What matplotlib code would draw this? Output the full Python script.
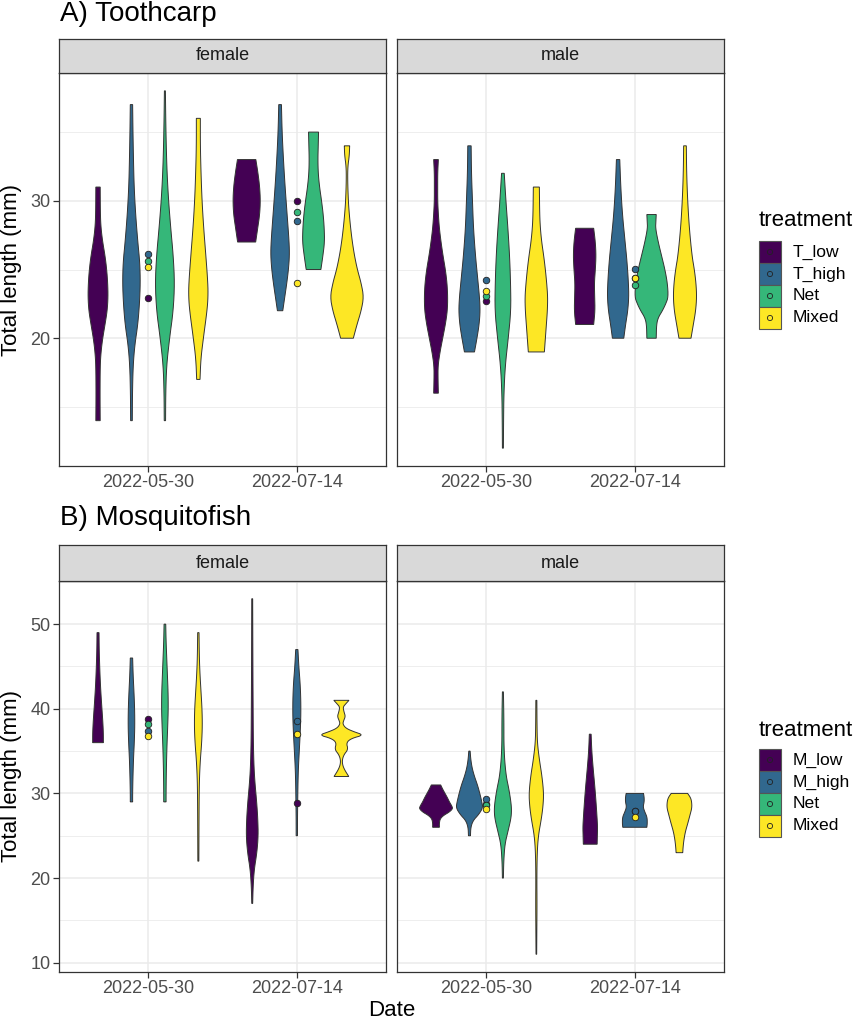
import numpy as np
import matplotlib
matplotlib.use("Agg")
import matplotlib.pyplot as plt
from matplotlib.patches import Rectangle

plt.rcParams["font.family"] = ["Liberation Sans", "DejaVu Sans"]

W, H = 858, 1024
dates = ["2022-05-30", "2022-07-14"]
tc_treatments = ["T_low", "T_high", "Net", "Mixed"]
mf_treatments = ["M_low", "M_high", "Net", "Mixed"]
colors = ["#440154", "#31688E", "#35B779", "#FDE725"]

# violin outlines, top to bottom: (total length mm, relative half width)
tc_female_0530 = {
    "T_low": [(31, .13), (29, .14), (28, .18), (27, .28), (26, .42), (25, .52), (24, .58), (23, .6),
              (22, .55), (21, .42), (20, .28), (19, .18), (18, .13), (16, .12), (14, .13)],
    "T_high": [(37, .07), (35, .09), (33, .12), (31, .16), (29, .25), (27, .38), (25.5, .5), (24, .53),
               (22.5, .48), (21, .38), (19.5, .2), (18, .1), (16, .06), (14, .05)],
    "Net": [(38, .03), (36, .05), (34, .08), (32, .13), (30, .22), (28, .35), (26, .5), (24, .58),
            (22, .5), (20, .28), (18, .1), (16, .05), (14, .04)],
    "Mixed": [(36, .12), (34, .12), (32, .16), (30, .22), (28, .32), (26, .45), (24, .57), (23, .58),
              (22, .52), (20, .3), (18.5, .15), (17, .1)],
}
tc_female_0714 = {
    "T_low": [(33, .55), (32, .68), (31, .78), (30, .82), (29, .78), (28, .66), (27, .54)],
    "T_high": [(37, .08), (35, .12), (33, .2), (31, .3), (29, .42), (27, .54), (26, .56), (25, .5),
               (24, .4), (23, .28), (22, .16)],
    "Net": [(35, .3), (34, .28), (33, .26), (32, .28), (31, .36), (30, .48), (29, .58), (28, .64),
            (27, .66), (26, .56), (25, .44)],
    "Mixed": [(34, .16), (33.3, .14), (32.5, .05), (31.5, .04), (30, .08), (29, .14), (28, .22),
              (27, .32), (26, .45), (25, .62), (24, .85), (23, 1.0), (22, .85), (21, .6), (20, .38)],
}
tc_male_0530 = {
    "T_low": [(33, .14), (32, .1), (31, .1), (30, .1), (29, .14), (28, .2), (27, .3), (26, .42),
              (25, .56), (24, .66), (23, .7), (22, .68), (21, .56), (20, .4), (19, .24), (18, .12),
              (17, .12), (16, .14)],
    "T_high": [(34, .1), (32, .12), (30, .18), (28, .24), (26, .36), (24.5, .48), (23, .6), (22, .64),
               (21, .58), (20, .45), (19, .3)],
    "Net": [(32, .08), (30, .18), (28, .3), (26, .4), (24, .46), (22, .48), (20, .32), (18, .14),
            (16, .06), (14, .04), (12, .03)],
    "Mixed": [(31, .18), (29, .2), (28, .24), (27, .32), (26, .44), (25, .54), (24, .62), (23, .68),
              (22, .66), (21, .6), (20, .54), (19, .48)],
}
tc_male_0714 = {
    "T_low": [(28, .54), (27, .64), (26, .68), (25, .64), (24, .58), (23, .6), (22, .62), (21, .54)],
    "T_high": [(33, .1), (31, .16), (29, .26), (27, .42), (25.5, .54), (24, .62), (23, .64), (22, .58),
               (21, .45), (20, .34)],
    "Net": [(29, .28), (28.5, .26), (28, .24), (27, .4), (26, .6), (25, .8), (24, .95), (23, 1.0),
            (22.5, .85), (22, .65), (21.5, .4), (21, .3), (20, .28)],
    "Mixed": [(34, .08), (32, .1), (30, .16), (28, .26), (26, .42), (25, .56), (24, .66), (23, .7),
              (22, .64), (21, .5), (20, .36)],
}
mf_female_0530 = {
    "M_low": [(49, .06), (47, .07), (45, .1), (43, .14), (41, .2), (39, .27), (38, .3), (37, .32), (36, .32)],
    "M_high": [(46, .07), (44, .1), (42, .15), (40, .19), (38, .2), (36, .17), (34, .12), (32, .09),
               (30, .07), (29, .07)],
    "Net": [(50, .05), (48, .07), (46, .11), (44, .15), (42, .19), (40, .2), (38, .17), (36, .13),
            (34, .1), (32, .08), (30, .07), (29, .07)],
    "Mixed": [(49, .04), (46, .06), (44, .1), (42, .16), (40, .22), (38, .24), (36, .2), (34, .12),
              (32, .07), (30, .05), (27, .04), (22, .03)],
}
mf_female_0714 = {
    "M_low": [(53, .02), (45, .03), (40, .04), (36, .05), (33, .08), (31, .13), (29, .2), (27, .25),
              (25, .27), (23, .21), (21, .09), (19, .04), (17, .02)],
    "M_high": [(47, .05), (45, .09), (43, .15), (41, .18), (39, .18), (37, .15), (35, .11), (33, .07),
               (31, .05), (29, .04), (27, .03), (25, .03)],
    "Mixed": [(41.0, .34), (40.6, .2), (40.2, .07), (39.6, .12), (39.1, .18), (38.6, .1), (38.2, .06),
              (37.7, .2), (37.3, .55), (36.9, 1.0), (36.5, .45), (36.0, .22), (35.2, .3), (34.6, .12),
              (34.0, .04), (33.4, .05), (32.8, .14), (32.0, .33)],
}
mf_male_0530 = {
    "M_low": [(31, .28), (30.5, .4), (30, .54), (29.5, .68), (29, .8), (28.5, .95), (28.2, 1.0),
              (27.8, .8), (27.4, .45), (27, .25), (26.5, .2), (26, .2)],
    "M_high": [(35, .04), (34, .08), (33, .16), (32, .3), (31, .48), (30, .62), (29, .74), (28.3, .8),
               (27.5, .55), (26.8, .22), (26, .08), (25, .06)],
    "Net": [(42, .03), (40, .05), (38, .06), (36, .06), (34, .1), (32, .2), (30.5, .36), (29, .48),
            (28, .52), (27, .48), (25.5, .3), (24, .12), (22, .05), (20, .03)],
    "Mixed": [(41, .03), (38, .04), (36, .06), (34, .18), (32, .34), (30, .44), (28.5, .4), (27, .3),
              (25, .12), (23, .05), (20, .03), (17, .04), (14, .03), (11, .02)],
}
mf_male_0714 = {
    "M_low": [(37, .04), (35, .07), (33, .13), (31, .2), (29, .26), (27, .31), (26, .33), (25, .32), (24, .31)],
    "M_high": [(30, .39), (29.5, .42), (29, .42), (28.4, .37), (27.8, .45), (27.2, .55), (26.5, .56), (26, .54)],
    "Mixed": [(30, .37), (29.5, .5), (29, .55), (28.3, .56), (27.5, .48), (26.5, .38), (25.5, .27),
              (24.5, .2), (23.5, .16), (23, .15)],
}

# group means (same order as treatments)
tc_female_means = {"2022-05-30": [22.9, 26.1, 25.6, 25.2], "2022-07-14": [30.0, 28.5, 29.2, 24.0]}
tc_male_means = {"2022-05-30": [22.7, 24.25, 23.1, 23.4], "2022-07-14": [24.4, 25.05, 23.9, 24.4]}
mf_female_means = {"2022-05-30": [38.8, 37.4, 38.2, 36.75], "2022-07-14": [28.9, 38.5, None, 37.0]}
mf_male_means = {"2022-05-30": [28.8, 29.3, 28.6, 28.2], "2022-07-14": [27.9, 27.9, None, 27.25]}


def chaikin(y, w, n=2):
    for _ in range(n):
        ny, nw = [y[0]], [w[0]]
        for i in range(len(y) - 1):
            ny += [0.75 * y[i] + 0.25 * y[i + 1], 0.25 * y[i] + 0.75 * y[i + 1]]
            nw += [0.75 * w[i] + 0.25 * w[i + 1], 0.25 * w[i] + 0.75 * w[i + 1]]
        ny.append(y[-1])
        nw.append(w[-1])
        y, w = np.array(ny), np.array(nw)
    return y, w


def add_px_axes(fig, x0, y0, x1, y1):
    return fig.add_axes([x0 / W, 1 - y1 / H, (x1 - x0) / W, (y1 - y0) / H])


def draw_panel(ax, profiles, means, treatments, ylim, major, minor):
    ax.set_xlim(0.4, 2.6)
    ax.set_ylim(*ylim)
    for m in minor:
        ax.axhline(m, color="#EBEBEB", lw=0.6, zorder=0)
    for m in major:
        ax.axhline(m, color="#EBEBEB", lw=1.1, zorder=0)
    for xpos in (1, 2):
        ax.axvline(xpos, color="#EBEBEB", lw=1.1, zorder=0)

    for d, (date, prof) in enumerate(zip(dates, profiles)):
        pos = d + 1
        present = [t for t in treatments if t in prof]
        n = len(present)
        slot = 0.9 / n
        for i, t in enumerate(present):
            c = pos + (i - (n - 1) / 2) * slot
            y = np.array([p[0] for p in prof[t]], dtype=float)
            w = np.array([p[1] for p in prof[t]], dtype=float)
            y, w = chaikin(y, w)
            half = w * slot / 2
            xs = np.concatenate([c + half, (c - half)[::-1]])
            ys = np.concatenate([y, y[::-1]])
            ax.fill(xs, ys, facecolor=colors[treatments.index(t)], edgecolor="#333333",
                    lw=0.7, zorder=2)
        for k, val in enumerate(means[date]):
            if val is None:
                continue
            ax.scatter([pos], [val], s=22, color=colors[k], edgecolor="#222222",
                       linewidth=0.6, zorder=3)

    ax.set_xticks([1, 2])
    ax.set_xticklabels(dates)
    ax.set_yticks(major)
    for sp in ax.spines.values():
        sp.set_color("#333333")
        sp.set_linewidth(0.9)
    ax.tick_params(colors="#333333", labelcolor="#4D4D4D", labelsize=13, length=4, width=0.9, pad=2)


def draw_strip(fig, x0, y0, x1, y1, label):
    s = add_px_axes(fig, x0, y0, x1, y1)
    s.set_facecolor("#D9D9D9")
    s.set_xticks([])
    s.set_yticks([])
    for sp in s.spines.values():
        sp.set_color("#333333")
        sp.set_linewidth(0.9)
    s.text(0.5, 0.5, label, ha="center", va="center", fontsize=13, color="#1A1A1A",
           transform=s.transAxes)


def draw_legend(fig, x0, ytitle, ykey, treatments):
    fig.text(x0 / W, 1 - ytitle / H, "treatment", fontsize=16, va="center", ha="left")
    lg = add_px_axes(fig, 740, ykey - 5, 858, ykey + 95)
    lg.set_xlim(740, 858)
    lg.set_ylim(ykey + 95, ykey - 5)
    lg.axis("off")
    for i, t in enumerate(treatments):
        top = ykey + i * 22
        lg.add_patch(Rectangle((759, top), 22, 22, facecolor=colors[i], edgecolor="#555555", lw=0.8))
        lg.scatter([770], [top + 11], s=14, facecolor="none", edgecolor="#222222", linewidth=0.6)
        lg.text(793, top + 11, t, fontsize=12.6, va="center", ha="left")


fig = plt.figure(figsize=(W / 100, H / 100), dpi=100)

# A) Toothcarp
axA1 = add_px_axes(fig, 59, 73, 386, 466)
axA2 = add_px_axes(fig, 397, 73, 724, 466)
draw_panel(axA1, [tc_female_0530, tc_female_0714], tc_female_means, tc_treatments,
           (10.7, 39.3), [20, 30], [15, 25, 35])
draw_panel(axA2, [tc_male_0530, tc_male_0714], tc_male_means, tc_treatments,
           (10.7, 39.3), [20, 30], [15, 25, 35])
axA2.set_yticklabels([])
axA2.tick_params(axis="y", length=0)
draw_strip(fig, 59, 39, 386, 73, "female")
draw_strip(fig, 397, 39, 724, 73, "male")
fig.text(60 / W, 1 - 14 / H, "A) Toothcarp", fontsize=20, va="center", ha="left")
fig.text(12 / W, 1 - 270 / H, "Total length (mm)", fontsize=16, rotation=90, va="center", ha="center")
draw_legend(fig, 759, 221, 241, tc_treatments)

# B) Mosquitofish
axB1 = add_px_axes(fig, 59, 581, 386, 972)
axB2 = add_px_axes(fig, 397, 581, 724, 972)
draw_panel(axB1, [mf_female_0530, mf_female_0714], mf_female_means, mf_treatments,
           (8.9, 55.1), [10, 20, 30, 40, 50], [15, 25, 35, 45, 55])
draw_panel(axB2, [mf_male_0530, mf_male_0714], mf_male_means, mf_treatments,
           (8.9, 55.1), [10, 20, 30, 40, 50], [15, 25, 35, 45, 55])
axB2.set_yticklabels([])
axB2.tick_params(axis="y", length=0)
draw_strip(fig, 59, 545, 386, 581, "female")
draw_strip(fig, 397, 545, 724, 581, "male")
fig.text(60 / W, 1 - 518 / H, "B) Mosquitofish", fontsize=20, va="center", ha="left")
fig.text(12 / W, 1 - 776 / H, "Total length (mm)", fontsize=16, rotation=90, va="center", ha="center")
draw_legend(fig, 759, 731, 749, mf_treatments)

fig.text(392 / W, 1 - 1011 / H, "Date", fontsize=16, va="center", ha="center")

fig.savefig("out.png", dpi=100)
